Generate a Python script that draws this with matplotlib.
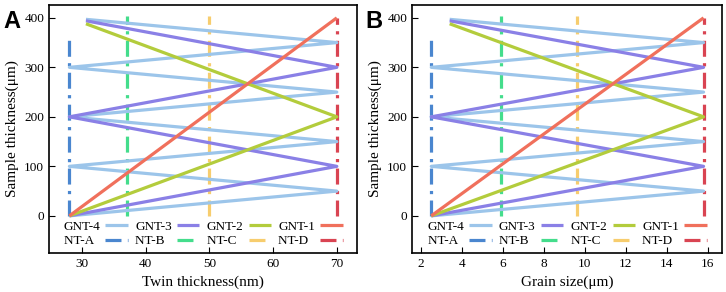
import numpy as np
import matplotlib.pyplot as plt

plt.rcParams['font.family'] = ['Liberation Serif', 'DejaVu Serif']

# sample thickness values for each series (um)
gnt4_y = [0, 50, 100, 150, 200, 250, 300, 350, 397]
gnt3_y = [0, 100, 200, 300, 394]
gnt2_y = [0, 200, 388]
gnt1_y = [0, 400]
gnt_labels = ['GNT-4', 'GNT-3', 'GNT-2', 'GNT-1']

nt_labels = ['NT-A', 'NT-B', 'NT-C', 'NT-D']
nt_top = [368, 403, 403, 400]

# panel A: twin thickness (nm)
twin_nt = [28, 37, 50, 70]
twin_start = 30.6
# panel B: grain size (um)
grain_nt = [2.5, 5.9, 9.6, 15.8]
grain_start = 3.4

gnt_colors = ['#9cc5ea', '#8a80e6', '#b3cc3c', '#f0705c']
nt_colors = ['#4a86cf', '#44dd8c', '#f7cd6e', '#d94452']


def zigzag_x(lo, hi, start, n):
    xs = [lo if i % 2 == 0 else hi for i in range(n - 1)]
    return xs + [start]


fig = plt.figure(figsize=(7.26, 2.92), dpi=100)
axA = fig.add_axes([0.0675, 0.1336, 0.4245, 0.8494])
axB = fig.add_axes([0.5675, 0.1336, 0.4270, 0.8494])

panels = [
    (axA, twin_nt, twin_start, 'Twin thickness(nm)', (24.8, 73.2), [30, 40, 50, 60, 70]),
    (axB, grain_nt, grain_start, 'Grain size(\u03bcm)', (1.56, 16.7), [2, 4, 6, 8, 10, 12, 14, 16]),
]

dash = (0, (5, 2.0, 1, 2.0))

for ax, ntx, start, xlabel, xlim, xticks in panels:
    lo, hi = ntx[0], ntx[-1]
    nt_handles = []
    for x, top, c, lab in zip(ntx, nt_top, nt_colors, nt_labels):
        # trailing spaces keep the short labels left-aligned with the GNT ones
        h, = ax.plot([x, x], [0, top], color=c, lw=2.3, linestyle=dash, label=lab + '  ')
        nt_handles.append(h)
    gnt_handles = []
    for ys, c, lab in zip([gnt4_y, gnt3_y, gnt2_y, gnt1_y], gnt_colors, gnt_labels):
        xs = zigzag_x(lo, hi, start, len(ys)) if len(ys) > 2 else [lo, hi]
        h, = ax.plot(xs, ys, color=c, lw=2.3, label=lab, solid_capstyle='butt')
        gnt_handles.append(h)

    handles = []
    for g, n in zip(gnt_handles, nt_handles):
        handles += [g, n]
    ax.legend(handles=handles, ncol=4, loc='lower center', bbox_to_anchor=(0.5, -0.025),
              frameon=False, markerfirst=False, fontsize=9.5, handlelength=1.7,
              handletextpad=0.4, columnspacing=0.55, labelspacing=0.15)

    ax.set_xlim(*xlim)
    ax.set_ylim(-75, 426)
    ax.set_xticks(xticks)
    ax.set_yticks([0, 100, 200, 300, 400])
    ax.tick_params(direction='in', length=4, labelsize=9.5, top=False, right=False)
    ax.set_xlabel(xlabel, fontsize=11)
    ax.set_ylabel('Sample thickness(\u03bcm)', fontsize=11)
    for s in ax.spines.values():
        s.set_linewidth(1.2)

fig.text(0.005, 0.965, 'A', fontsize=17, fontweight='bold', family='Liberation Sans', va='top')
fig.text(0.503, 0.965, 'B', fontsize=17, fontweight='bold', family='Liberation Sans', va='top')

plt.savefig('out.png', dpi=100)
